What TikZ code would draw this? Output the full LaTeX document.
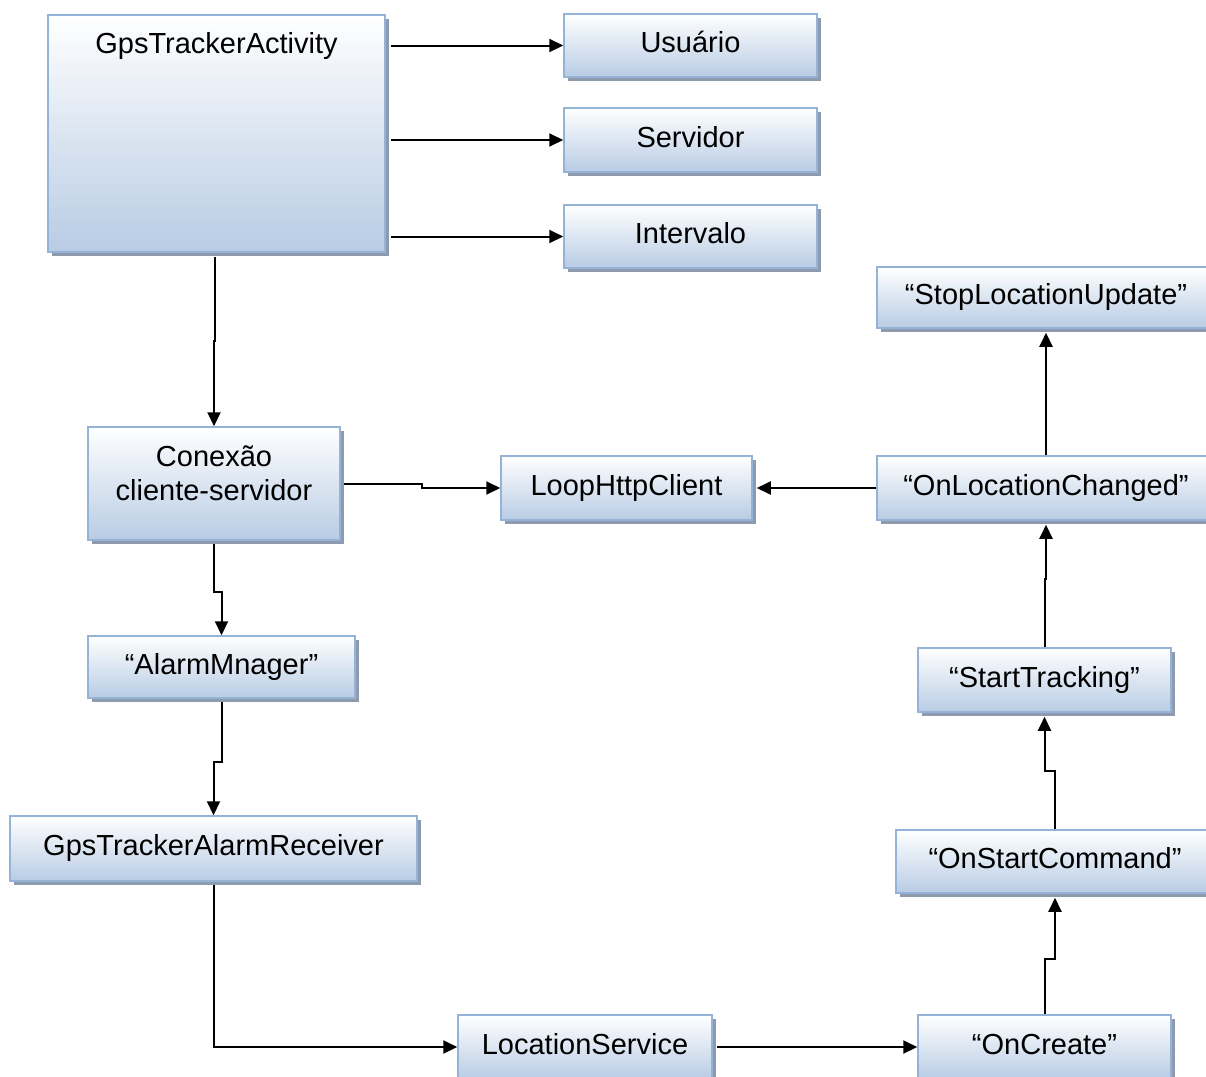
\documentclass[tikz,border=0pt]{standalone}
\usepackage{fontspec}
\setmainfont{Liberation Sans}
\usetikzlibrary{shadows,arrows.meta,calc}
\definecolor{boxbot}{HTML}{B8CCE4}
\definecolor{boxline}{HTML}{95B3D7}
\definecolor{shadowc}{HTML}{8E9BAE}
\tikzset{
  box/.style={draw=boxline, line width=1.5pt, top color=white, bottom color=boxbot,
    drop shadow={shadow xshift=4pt, shadow yshift=-4pt, fill=shadowc, opacity=1},
    inner sep=0pt, align=center, font=\fontsize{29}{34}\selectfont,
    text height=21pt, text depth=7pt},
  arr/.style={line width=2pt, -{Triangle[length=14pt,width=13pt]}},
}
\begin{document}
\begin{tikzpicture}[x=1pt,y=1pt]
\clip (0,0) rectangle (1206,-1076);
\fill[white] (0,0) rectangle (1206,-1076);
% nodes
\node[box, minimum width=337pt, minimum height=237pt,
      label={[anchor=north, font=\fontsize{29}{34}\selectfont, yshift=-15pt]north:GpsTrackerActivity}] (gta) at (216.5,-133.5) {};
\node[box, minimum width=253pt, minimum height=63pt] (usu) at (690.5,-45.5) {Usuário};
\node[box, minimum width=253pt, minimum height=64pt] (ser) at (690.5,-140) {Servidor};
\node[box, minimum width=253pt, minimum height=63pt] (int) at (690.5,-236.5) {Intervalo};
\node[box, minimum width=338pt, minimum height=61pt] (stop) at (1046,-297.5) {“StopLocationUpdate”};
\node[box, minimum width=252pt, minimum height=113pt, text height=40pt, text depth=7pt] (con) at (214,-483.5) {Conexão\\cliente-servidor};
\node[box, minimum width=251pt, minimum height=64pt] (loop) at (626.5,-488) {LoopHttpClient};
\node[box, minimum width=338pt, minimum height=64pt] (olc) at (1046,-488) {“OnLocationChanged”};
\node[box, minimum width=267pt, minimum height=62pt] (alarm) at (221.5,-667) {“AlarmMnager”};
\node[box, minimum width=253pt, minimum height=64pt] (start) at (1044.5,-680) {“StartTracking”};
\node[box, minimum width=407pt, minimum height=65pt] (recv) at (213.5,-848.5) {GpsTrackerAlarmReceiver};
\node[box, minimum width=318pt, minimum height=63pt] (osc) at (1055,-861.5) {“OnStartCommand”};
\node[box, minimum width=254pt, minimum height=64pt] (loc) at (585,-1047) {LocationService};
\node[box, minimum width=253pt, minimum height=64pt] (onc) at (1044.5,-1047) {“OnCreate”};
% connectors
\draw[arr] ([xshift=5pt]gta.east |- usu.west) -- (usu.west);
\draw[arr] ([xshift=5pt]gta.east |- ser.west) -- (ser.west);
\draw[arr] ([xshift=5pt]gta.east |- int.west) -- (int.west);
\draw[arr] ([xshift=-1.5pt,yshift=-4pt]gta.south) -- ++(0,-84) -| (con.north);
\draw[arr] ([xshift=3pt]con.east) -- ++(78,0) |- (loop.west);
\draw[arr] ([yshift=-3pt]con.south) -- ++(0,-48) -| (alarm.north);
\draw[arr] ([yshift=-3pt]alarm.south) -- ++(0,-60) -| (recv.north);
\draw[arr] ([yshift=-3pt]recv.south) |- (loc.west);
\draw[arr] ([xshift=4pt]loc.east) -- (onc.west);
\draw[arr] (onc.north) -- ++(0,55) -| ([yshift=-4pt]osc.south);
\draw[arr] (osc.north) -- ++(0,58) -| ([yshift=-4pt]start.south);
\draw[arr] (start.north) -- ++(0,68) -| ([yshift=-4pt]olc.south);
\draw[arr] (olc.west) -- ([xshift=4pt]loop.east);
\draw[arr] (olc.north) -- ([yshift=-4pt]stop.south);
\end{tikzpicture}
\end{document}
